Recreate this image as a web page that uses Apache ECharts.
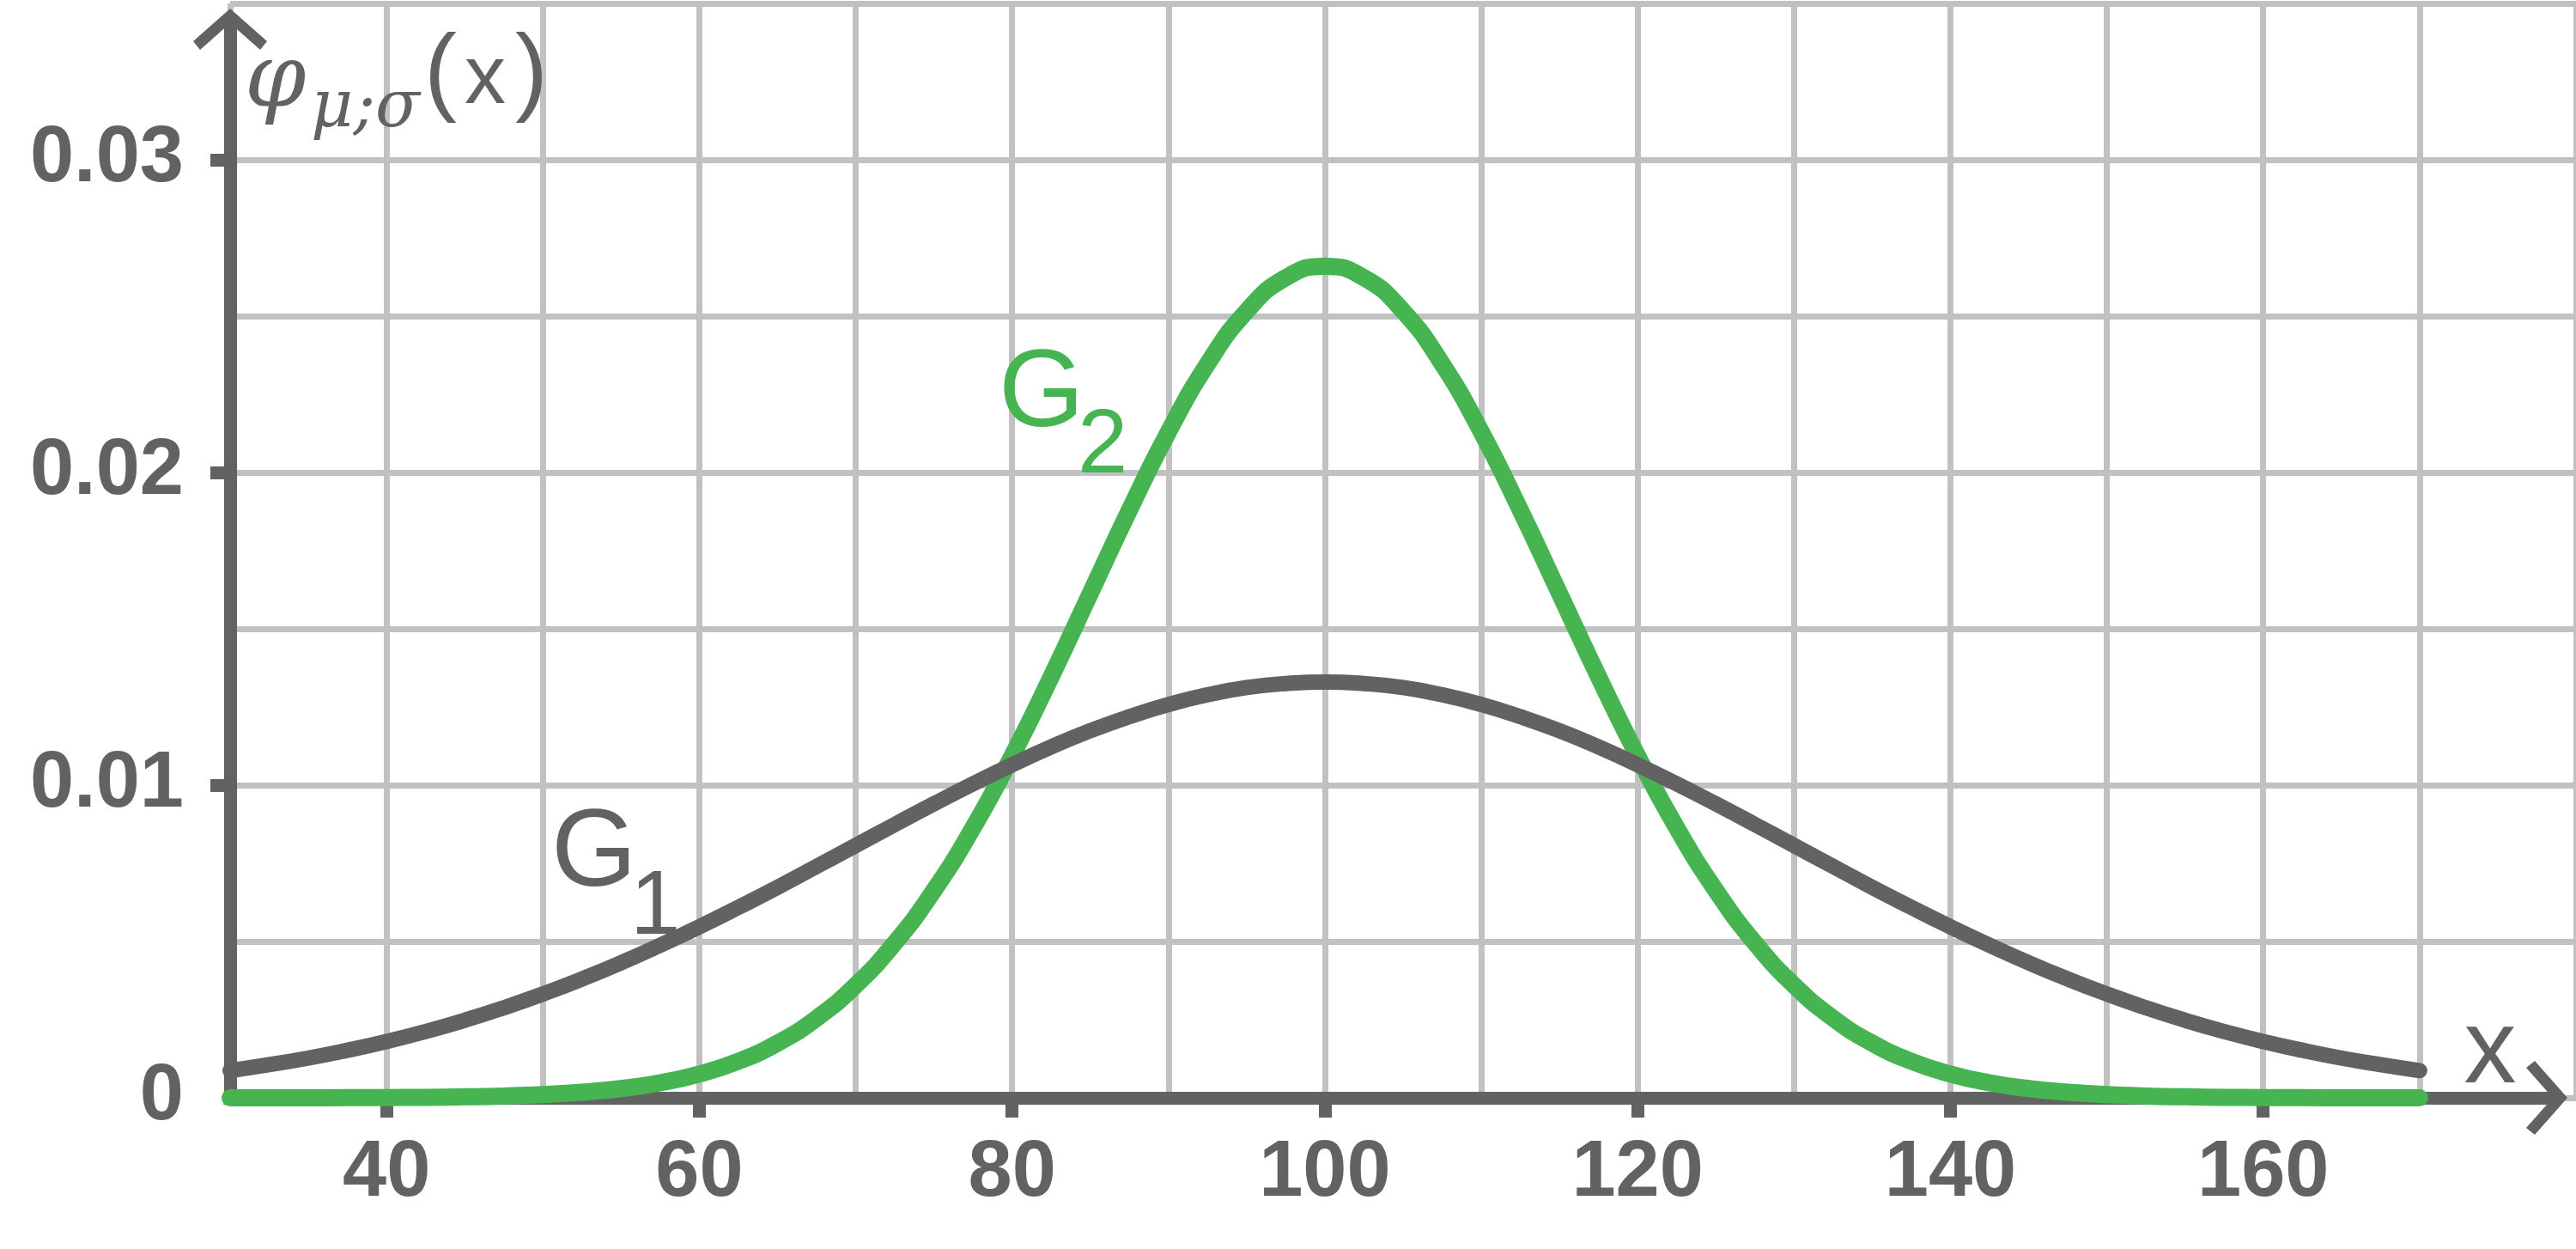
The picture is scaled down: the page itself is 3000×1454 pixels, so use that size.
<!DOCTYPE html>
<html>
<head>
<meta charset="utf-8">
<title>Normalverteilung G1 / G2</title>
<script src="https://cdn.jsdelivr.net/npm/echarts@6/dist/echarts.min.js"></script>
<style>
  html, body { margin: 0; padding: 0; background: #fff; }
  #chart { width: 3000px; height: 1454px; }
</style>
</head>
<body>
<div id="chart"></div>
<script>
// x positions of the read points
var xValues = [30, 32.5, 35, 37.5, 40, 42.5, 45, 47.5, 50, 52.5, 55, 57.5, 60, 62.5, 65, 67.5,
               70, 72.5, 75, 77.5, 80, 82.5, 85, 87.5, 90, 92.5, 95, 97.5, 100,
               102.5, 105, 107.5, 110, 112.5, 115, 117.5, 120, 122.5, 125, 127.5, 130, 132.5,
               135, 137.5, 140, 142.5, 145, 147.5, 150, 152.5, 155, 157.5, 160, 162.5, 165, 167.5, 170];

// G1 (grau, breit)
var g1Values = [0.00087, 0.00106, 0.00127, 0.00152, 0.00180, 0.00212, 0.00248, 0.00288, 0.00332, 0.00380,
                0.00432, 0.00488, 0.00547, 0.00609, 0.00673, 0.00740, 0.00807, 0.00874, 0.00940, 0.01004,
                0.01065, 0.01122, 0.01174, 0.01219, 0.01258, 0.01289, 0.01312, 0.01325, 0.01330,
                0.01325, 0.01312, 0.01289, 0.01258, 0.01219, 0.01174, 0.01122, 0.01065, 0.01004, 0.00940,
                0.00874, 0.00807, 0.00740, 0.00673, 0.00609, 0.00547, 0.00488, 0.00432, 0.00380, 0.00332,
                0.00288, 0.00248, 0.00212, 0.00180, 0.00152, 0.00127, 0.00106, 0.00087];

// G2 (gruen, schmal)
var g2Values = [0.0000005, 0.0000011, 0.0000022, 0.0000045, 0.0000089, 0.0000171, 0.000032, 0.000058,
                0.000103, 0.000177, 0.000295, 0.000480, 0.000760, 0.001169, 0.001748, 0.002543,
                0.003599, 0.004954, 0.006632, 0.008635, 0.010934, 0.013467, 0.016131, 0.018794,
                0.021297, 0.023471, 0.025159, 0.026229, 0.026596,
                0.026229, 0.025159, 0.023471, 0.021297, 0.018794, 0.016131, 0.013467, 0.010934,
                0.008635, 0.006632, 0.004954, 0.003599, 0.002543, 0.001748, 0.001169, 0.000760,
                0.000480, 0.000295, 0.000177, 0.000103, 0.000058, 0.000032, 0.0000171, 0.0000089,
                0.0000045, 0.0000022, 0.0000011, 0.0000005];

var xTickValues = [40, 60, 80, 100, 120, 140, 160];
var yLabelValues = [0, 0.01, 0.02, 0.03];
var yTickValues = [0.01, 0.02, 0.03];

var GRAY = '#626262';
var GREEN = '#46b450';
var GRID = '#c1c1c1';

function pairs(xs, ys) {
  var out = [];
  for (var i = 0; i < xs.length; i++) {
    out.push([xs[i], ys[i]]);
  }
  return out;
}

var chevron = 'path://M43,0 L86,38 L78,48 L43,17 L8,48 L0,38 Z';

var labelFont = {
  color: GRAY,
  fontFamily: 'Liberation Sans',
  fontWeight: 'bold',
  fontSize: 92
};

function txt(x, y, text, size, family, style, color, align) {
  return {
    type: 'text',
    x: x,
    y: y,
    z: 100,
    style: {
      text: text,
      fontSize: size,
      fontFamily: family,
      fontStyle: style,
      fill: color,
      align: align,
      textAlign: align,
      verticalAlign: 'middle',
      textVerticalAlign: 'middle'
    }
  };
}

var myChart = echarts.init(document.getElementById('chart'));

var option = {
  animation: false,
  backgroundColor: '#fff',
  grid: [
    { left: 268, right: 0, top: 4, bottom: 176 },
    { left: 268, right: 26, top: 28, bottom: 176 }
  ],
  xAxis: [{
    // Gitterlinien
    type: 'value', gridIndex: 0, min: 30, max: 180, interval: 10,
    axisLine: { show: false }, axisTick: { show: false }, axisLabel: { show: false },
    splitLine: { show: true, lineStyle: { color: GRID, width: 7 } }
  }, {
    // Striche und Beschriftung
    type: 'value', gridIndex: 0, min: 30, max: 180, position: 'bottom',
    axisLine: { show: false, onZero: false },
    axisTick: { show: true, length: 23, customValues: xTickValues, lineStyle: { color: GRAY, width: 15 } },
    axisLabel: Object.assign({ show: true, margin: 43, customValues: xTickValues }, labelFont),
    splitLine: { show: false }
  }, {
    // Achse mit Pfeil
    type: 'value', gridIndex: 1, min: 0, max: 1,
    axisLine: {
      show: true, onZero: false,
      lineStyle: { color: GRAY, width: 15, cap: 'square' },
      symbol: ['none', chevron], symbolSize: [86, 48], symbolOffset: [0, -8]
    },
    axisTick: { show: false }, axisLabel: { show: false }, splitLine: { show: false }
  }],
  yAxis: [{
    type: 'value', gridIndex: 0, min: 0, max: 0.035, interval: 0.005,
    axisLine: { show: false }, axisTick: { show: false }, axisLabel: { show: false },
    splitLine: { show: true, lineStyle: { color: GRID, width: 7 } }
  }, {
    type: 'value', gridIndex: 0, min: 0, max: 0.035, position: 'left',
    axisLine: { show: false, onZero: false },
    axisTick: { show: true, length: 23, customValues: yTickValues, lineStyle: { color: GRAY, width: 15 } },
    axisLabel: Object.assign({
      show: true, margin: 54, customValues: yLabelValues, padding: [12, 0, 0, 0],
      formatter: function (v) { return v === 0 ? '0' : v.toFixed(2); }
    }, labelFont),
    splitLine: { show: false }
  }, {
    type: 'value', gridIndex: 1, min: 0, max: 1,
    axisLine: {
      show: true, onZero: false,
      lineStyle: { color: GRAY, width: 15, cap: 'square' },
      symbol: ['none', chevron], symbolSize: [86, 48], symbolOffset: [0, -6]
    },
    axisTick: { show: false }, axisLabel: { show: false }, splitLine: { show: false }
  }],
  graphic: [
    // y-Achsenname
    txt(285, 97, '\u03c6', 102, 'DejaVu Serif', 'italic', GRAY, 'left'),
    txt(362, 127, '\u03bc;\u03c3', 76, 'DejaVu Serif', 'italic', GRAY, 'left'),
    txt(494, 88, '(', 114, 'Liberation Sans', 'normal', GRAY, 'left'),
    txt(565, 94, 'x', 96, 'Liberation Sans', 'normal', GRAY, 'center'),
    txt(638, 88, ')', 114, 'Liberation Sans', 'normal', GRAY, 'right'),
    // x-Achsenname
    txt(2900, 1226, 'x', 122, 'Liberation Sans', 'normal', GRAY, 'center'),
    // Kurvennamen
    txt(642, 996, 'G', 128, 'Liberation Sans', 'normal', GRAY, 'left'),
    txt(734, 1058, '1', 105, 'Liberation Sans', 'normal', GRAY, 'left'),
    txt(1163, 461, 'G', 128, 'Liberation Sans', 'normal', GREEN, 'left'),
    txt(1255, 521, '2', 105, 'Liberation Sans', 'normal', GREEN, 'left')
  ],
  series: [{
    name: 'G2',
    type: 'line',
    xAxisIndex: 0,
    yAxisIndex: 0,
    smooth: 0.5,
    showSymbol: false,
    lineStyle: { color: GREEN, width: 20, cap: 'round', join: 'round' },
    data: pairs(xValues, g2Values)
  }, {
    name: 'G1',
    type: 'line',
    xAxisIndex: 0,
    yAxisIndex: 0,
    smooth: 0.5,
    showSymbol: false,
    lineStyle: { color: GRAY, width: 18, cap: 'round', join: 'round' },
    data: pairs(xValues, g1Values)
  }]
};

myChart.setOption(option);
</script>
</body>
</html>
